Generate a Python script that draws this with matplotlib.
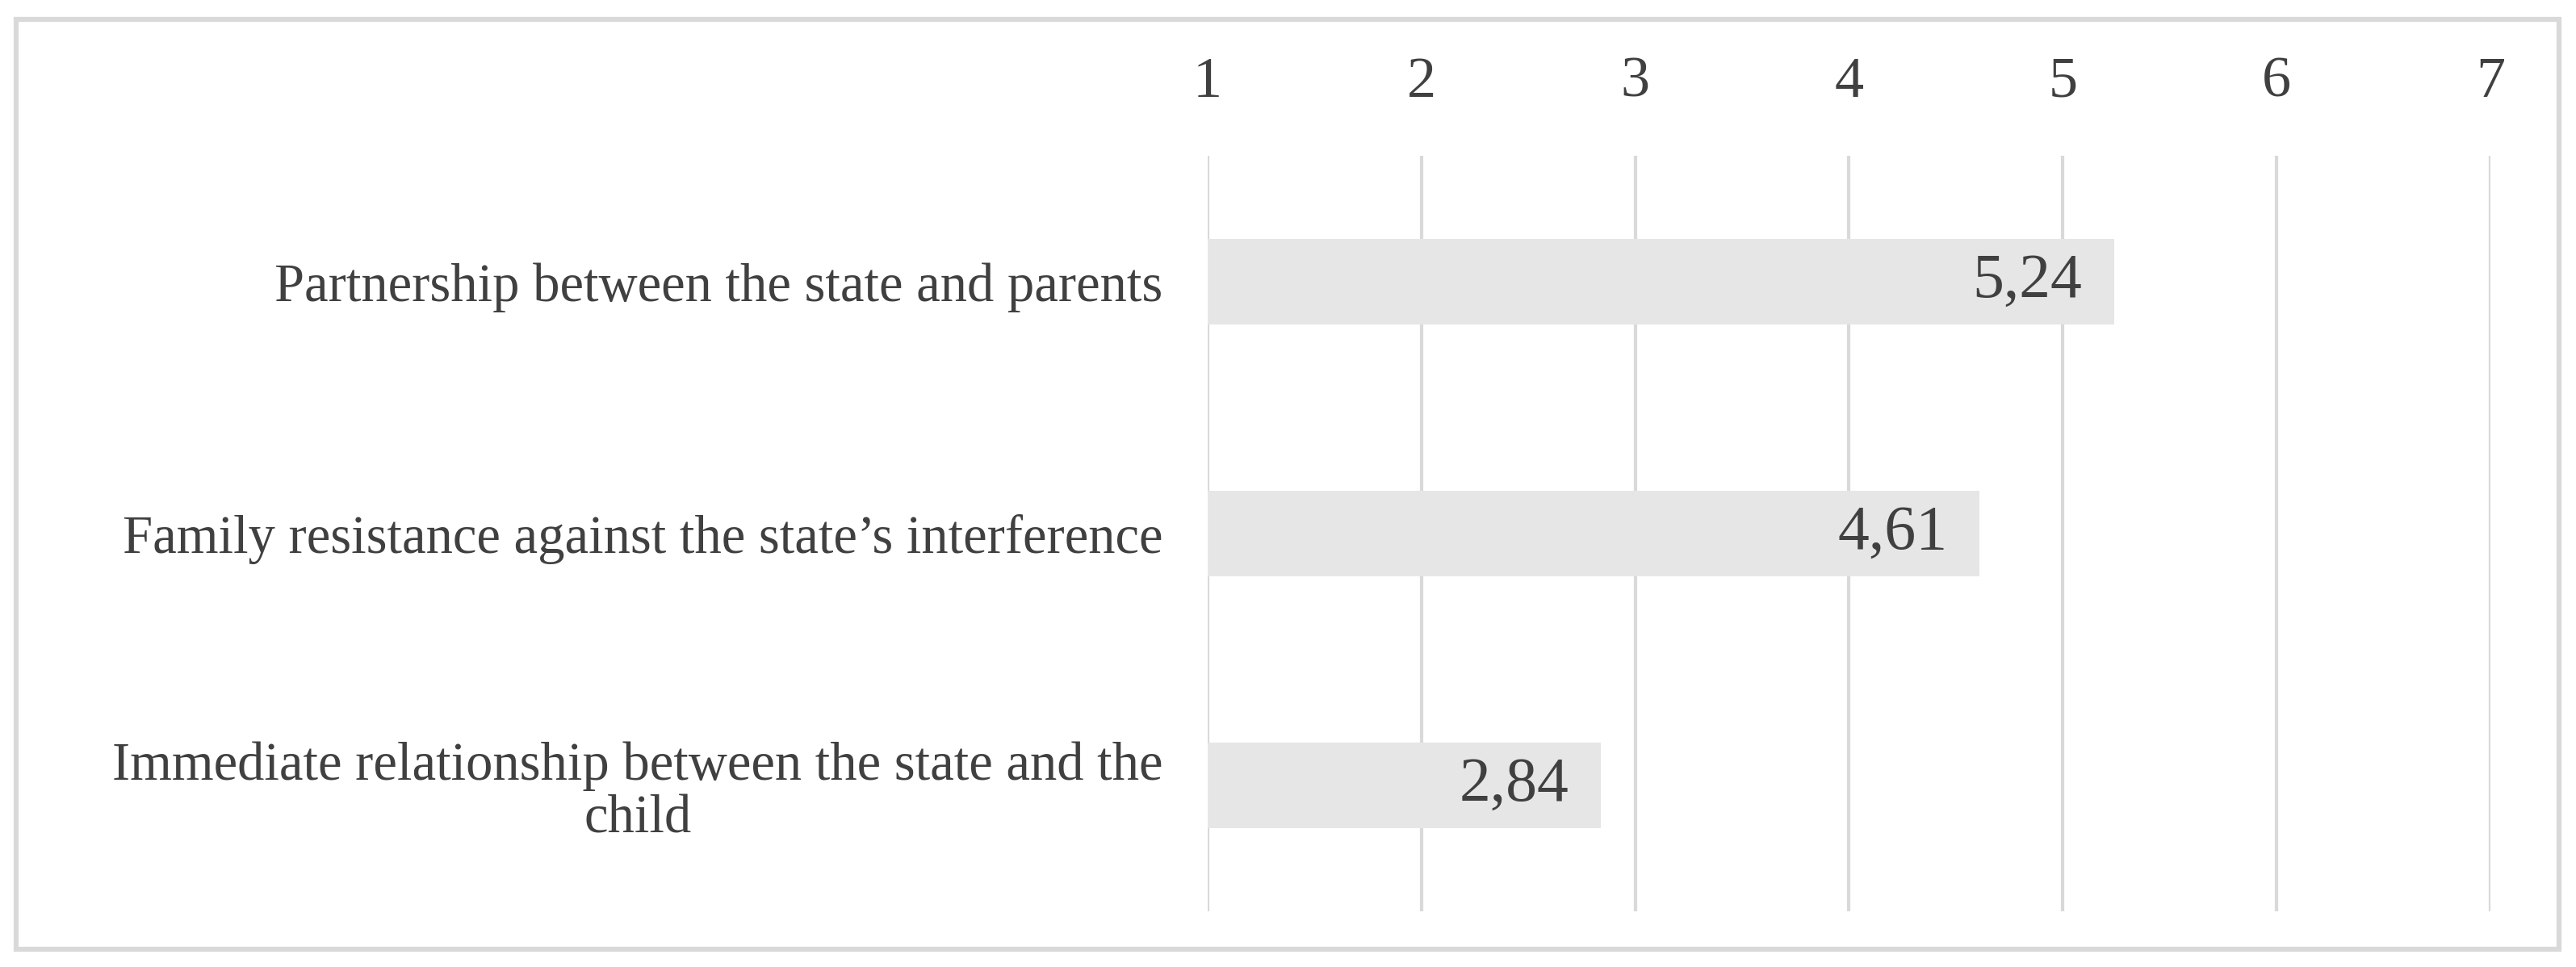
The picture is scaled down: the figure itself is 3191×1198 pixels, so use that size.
import matplotlib
matplotlib.use("Agg")
import matplotlib.pyplot as plt
from matplotlib.patches import Rectangle

categories = [
    "Partnership between the state and parents",
    "Family resistance against the state\u2019s interference",
    "Immediate relationship between the state and the\nchild",
]
values = [5.24, 4.61, 2.84]
value_labels = ["5,24", "4,61", "2,84"]
ticks = [1, 2, 3, 4, 5, 6, 7]

plt.rcParams['font.family'] = ['Liberation Serif', 'DejaVu Serif']
text_color = "#404040"
grid_color = "#d9d9d9"
bar_color = "#e6e6e6"
fs = 48

fig = plt.figure(figsize=(31.91, 11.98), dpi=100)
ax = fig.add_axes([0.4688, 0.0576, 0.4980, 0.7813])

y = list(range(len(categories)))
ax.barh(y, [v - 1 for v in values], left=1, height=0.34, color=bar_color, zorder=2)
for yi, v, lab in zip(y, values, value_labels):
    ax.text(v - 0.15, yi, lab, ha="right", va="center", fontsize=56, color=text_color, zorder=3)

ax.set_xlim(1, 7.0)
ax.set_ylim(2.5, -0.5)
ax.set_xticks(ticks)
ax.set_xticklabels([str(t) for t in ticks], fontsize=52, color=text_color)
ax.xaxis.tick_top()
ax.tick_params(axis="x", length=0, pad=42)
ax.set_yticks(y)
ax.set_yticklabels(categories, fontsize=fs, color=text_color, multialignment="center",
                   linespacing=1.1)
ax.tick_params(axis="y", length=0, pad=40)
ax.grid(axis="x", color=grid_color, linewidth=3, zorder=1)
ax.set_axisbelow(True)
for s in ax.spines.values():
    s.set_visible(False)

fig.patches.append(Rectangle((20 / 3191, 1 - 1176 / 1198), 3150 / 3191, 1152 / 1198,
                             transform=fig.transFigure, fill=False,
                             edgecolor=grid_color, linewidth=4.5))

fig.savefig("out.png", dpi=100)
